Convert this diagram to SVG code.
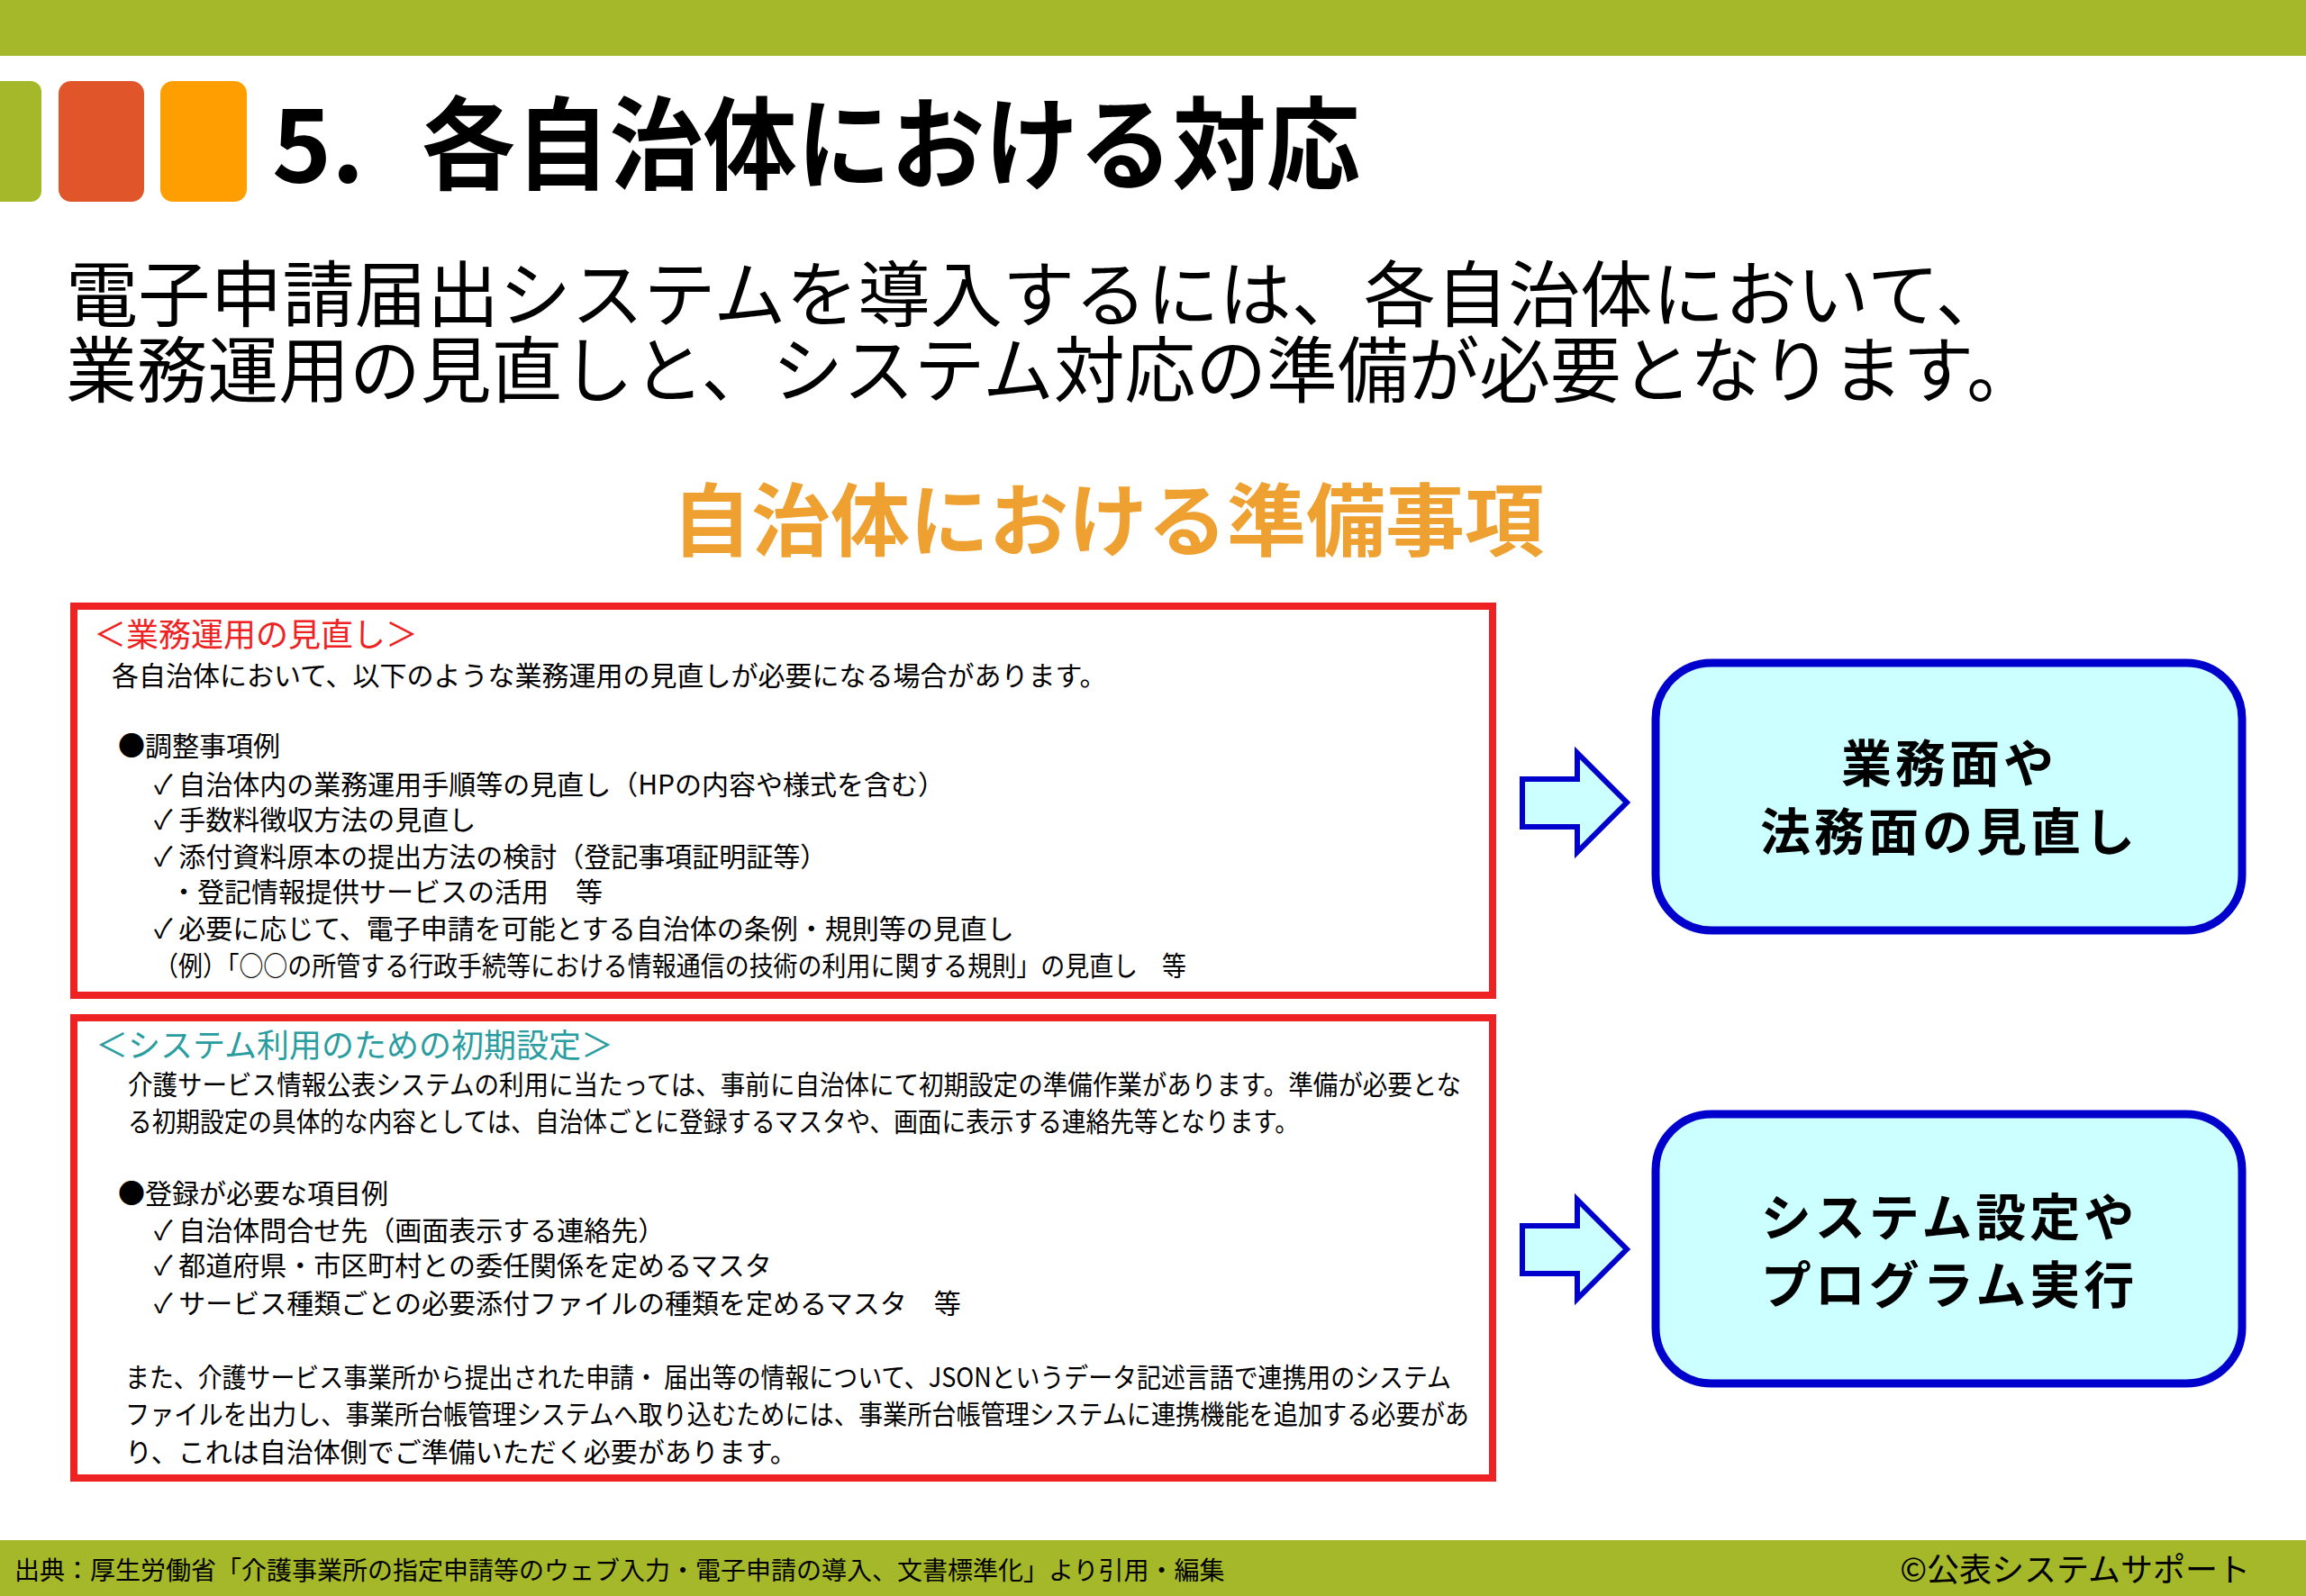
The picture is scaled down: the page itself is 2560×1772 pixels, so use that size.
<svg xmlns="http://www.w3.org/2000/svg" width="2560" height="1772" viewBox="0 0 2560 1772">
<style>
text{font-family:"Noto Sans CJK JP","Liberation Sans",sans-serif;fill:#000}
.b{font-size:30px}
.h{font-size:36px}
.box{fill:#fff;stroke:#EE2222;stroke-width:8}
.rb{fill:#CCFFFF;stroke:#0000CC;stroke-width:9}
.arr{fill:#CCFFFF;stroke:#0000CC;stroke-width:6}
.rt{font-size:56px;font-weight:bold;text-anchor:middle;letter-spacing:4px}
</style>
<rect x="0" y="0" width="2560" height="62" fill="#A5B82A"/>
<rect x="-20" y="90" width="66" height="134" rx="12" fill="#A5B82A"/>
<rect x="65" y="90" width="95" height="134" rx="14" fill="#E0552A"/>
<rect x="178" y="90" width="96" height="134" rx="14" fill="#FF9E00"/>
<text x="302" y="202" font-size="112" font-weight="bold">5.</text>
<text x="468" y="202" font-size="112" font-weight="bold" textLength="1042" lengthAdjust="spacingAndGlyphs">各自治体における対応</text>
<text x="73" y="356" font-size="80" textLength="2156" lengthAdjust="spacingAndGlyphs">電子申請届出システムを導入するには、各自治体において、</text>
<text x="73" y="440" font-size="80" textLength="2189" lengthAdjust="spacingAndGlyphs">業務運用の見直しと、システム対応の準備が必要となります。</text>
<text x="1230" y="610" font-size="88" font-weight="bold" text-anchor="middle" style="fill:#EEA030">自治体における準備事項</text>

<g id="box-gyomu">
<rect class="box" x="82" y="673" width="1575" height="432"/>
<text class="h" x="104" y="718" style="fill:#EE2222">＜業務運用の見直し＞</text>
<text class="b" x="124" y="761">各自治体において、以下のような業務運用の見直しが必要になる場合があります。</text>
<text class="b" x="131" y="839">●調整事項例</text>
<text class="b" x="171" y="882">✓ 自治体内の業務運用手順等の見直し（HPの内容や様式を含む）</text>
<text class="b" x="171" y="921">✓ 手数料徴収方法の見直し</text>
<text class="b" x="171" y="962">✓ 添付資料原本の提出方法の検討（登記事項証明証等）</text>
<text class="b" x="189" y="1001">・登記情報提供サービスの活用　等</text>
<text class="b" x="171" y="1042">✓ 必要に応じて、電子申請を可能とする自治体の条例・規則等の見直し</text>
<text class="b" x="171" y="1083" textLength="1146" lengthAdjust="spacingAndGlyphs">（例）「○○の所管する行政手続等における情報通信の技術の利用に関する規則」の見直し　等</text>
</g>

<g id="box-system">
<rect class="box" x="82" y="1130" width="1575" height="511"/>
<text class="h" x="106" y="1174" style="fill:#2A9DA0">＜システム利用のための初期設定＞</text>
<text class="b" x="142" y="1215" textLength="1480" lengthAdjust="spacingAndGlyphs">介護サービス情報公表システムの利用に当たっては、事前に自治体にて初期設定の準備作業があります。準備が必要とな</text>
<text class="b" x="142" y="1256" textLength="1300" lengthAdjust="spacingAndGlyphs">る初期設定の具体的な内容としては、自治体ごとに登録するマスタや、画面に表示する連絡先等となります。</text>
<text class="b" x="131" y="1336">●登録が必要な項目例</text>
<text class="b" x="171" y="1377">✓ 自治体問合せ先（画面表示する連絡先）</text>
<text class="b" x="171" y="1416">✓ 都道府県・市区町村との委任関係を定めるマスタ</text>
<text class="b" x="171" y="1458">✓ サービス種類ごとの必要添付ファイルの種類を定めるマスタ　等</text>
<text class="b" x="139" y="1540" textLength="1472" lengthAdjust="spacingAndGlyphs">また、介護サービス事業所から提出された申請・ 届出等の情報について、JSONというデータ記述言語で連携用のシステム</text>
<text class="b" x="139" y="1581" textLength="1492" lengthAdjust="spacingAndGlyphs">ファイルを出力し、事業所台帳管理システムへ取り込むためには、事業所台帳管理システムに連携機能を追加する必要があ</text>
<text class="b" x="139" y="1623">り、これは自治体側でご準備いただく必要があります。</text>
</g>

<g id="connectors">
<polygon class="arr" points="1690,865 1751,865 1751,836 1806,891 1751,946 1751,918 1690,918"/>
<polygon class="arr" points="1690,1361 1751,1361 1751,1332 1806,1387 1751,1442 1751,1414 1690,1414"/>
</g>

<g id="node-gyomu">
<rect class="rb" x="1838" y="736" width="651" height="297" rx="62"/>
<text class="rt" x="2164" y="868">業務面や</text>
<text class="rt" x="2164" y="944">法務面の見直し</text>
</g>
<g id="node-system">
<rect class="rb" x="1838" y="1237" width="651" height="299" rx="62"/>
<text class="rt" x="2164" y="1372">システム設定や</text>
<text class="rt" x="2164" y="1447">プログラム実行</text>
</g>

<rect x="0" y="1710" width="2560" height="62" fill="#A5B82A"/>
<text x="16" y="1754" font-size="28">出典：厚生労働省「介護事業所の指定申請等のウェブ入力・電子申請の導入、文書標準化」より引用・編集</text>
<text x="2498" y="1756" font-size="36" text-anchor="end">©公表システムサポート</text>
</svg>
